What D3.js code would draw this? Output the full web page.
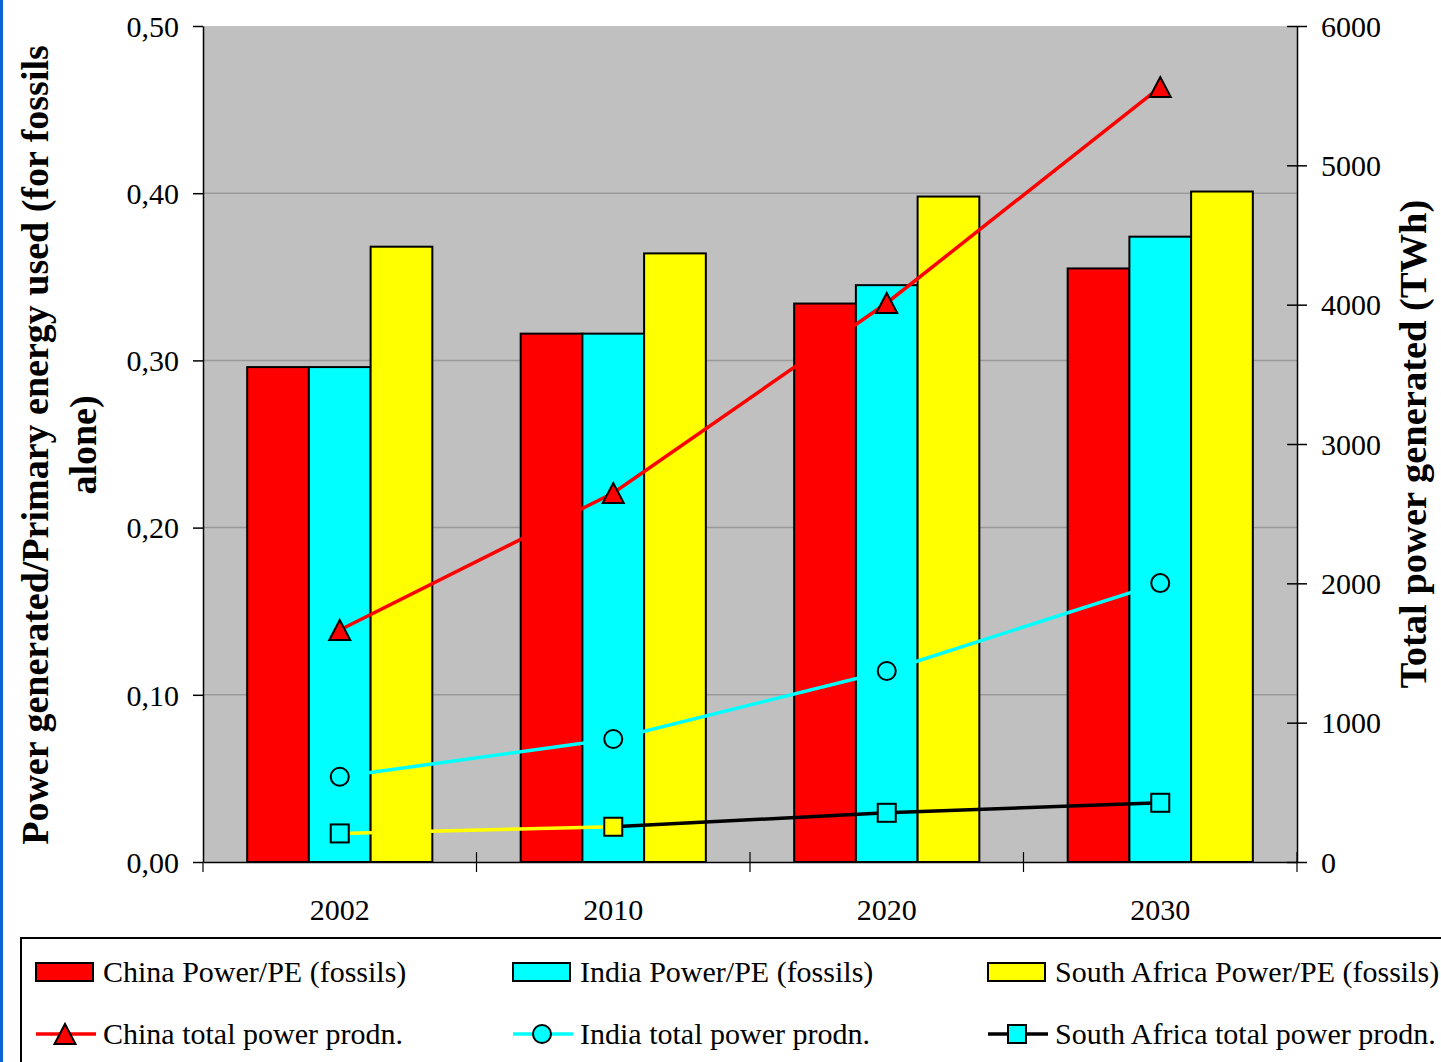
<!DOCTYPE html>
<html>
<head>
<meta charset="utf-8">
<script src="https://cdn.jsdelivr.net/npm/d3@7"></script>
<style>
  html, body { margin: 0; padding: 0; background: #ffffff; }
  svg { display: block; }
  text { font-family: "Liberation Serif", "Times New Roman", serif; fill: #000; }
</style>
</head>
<body>
<svg id="chart" width="1441" height="1062"></svg>
<script>
// ---------------- DATA ----------------
const years = ["2002", "2010", "2020", "2030"];
const barSeries = ["China Power/PE (fossils)", "India Power/PE (fossils)", "South Africa Power/PE (fossils)"];
const chinaRatio = [0.296, 0.316, 0.334, 0.355];
const indiaRatio = [0.296, 0.316, 0.345, 0.374];
const saRatio    = [0.368, 0.364, 0.398, 0.401];
const lineSeries = ["China total power prodn.", "India total power prodn.", "South Africa total power prodn."];
const chinaTotal = [1665, 2648, 4012, 5562];
const indiaTotal = [612, 883, 1371, 2002];
const saTotal    = [205, 253, 353, 425];
const leftTicks  = [0, 0.1, 0.2, 0.3, 0.4, 0.5];
const rightTicks = [0, 1000, 2000, 3000, 4000, 5000, 6000];
const leftTitleLines = ["Power generated/Primary energy used (for fossils", "alone)"];
const rightTitle = "Total power generated (TWh)";

// ---------------- STYLE ----------------
const barColors = ["#ff0000", "#00ffff", "#ffff00"];
const lineColors = ["#ff0000", "#00ffff", "#000000"];
// per-segment / per-point styling as in the original
const saSegmentColors = ["#ffff00", "#000000", "#000000"];
const saMarkerFills = ["#00ffff", "#ffff00", "#00ffff", "#00ffff"];

const svg = d3.select("#chart");
const L = 203, R = 1297, T = 26, B = 862;

// left blue strip
svg.append("rect").attr("x", 0).attr("y", 0).attr("width", 3).attr("height", 1062).attr("fill", "#0a64d2");

const x = d3.scaleBand().domain(years).range([L, R]).padding(0);
const groupW = x.bandwidth() * 0.677;
const x1 = d3.scaleBand().domain(d3.range(3)).range([-groupW / 2, groupW / 2]).padding(0);
const yL = d3.scaleLinear().domain([0, 0.5]).range([B, T]);
const yR = d3.scaleLinear().domain([0, 6000]).range([B, T]);
const cx = d => x(d) + x.bandwidth() / 2;

// plot background
svg.append("rect").attr("x", L).attr("y", T).attr("width", R - L).attr("height", B - T).attr("fill", "#c0c0c0");

// gridlines
svg.append("g").selectAll("line").data(leftTicks.filter(v => v > 0 && v < 0.5)).join("line")
  .attr("x1", L).attr("x2", R).attr("y1", d => yL(d)).attr("y2", d => yL(d))
  .attr("stroke", "#999999").attr("stroke-width", 1.5);

// bars
const barData = [chinaRatio, indiaRatio, saRatio];
const bars = svg.append("g");
barData.forEach((vals, si) => {
  bars.selectAll(null).data(years.map((y, i) => ({ y, v: vals[i] }))).join("rect")
    .attr("x", d => cx(d.y) + x1(si))
    .attr("y", d => yL(d.v))
    .attr("width", x1.bandwidth())
    .attr("height", d => yL(0) - yL(d.v))
    .attr("fill", barColors[si])
    .attr("stroke", "#000").attr("stroke-width", 2);
});

// axes
const fmtL = d => d3.format(".2f")(d).replace(".", ",");
const axL = svg.append("g").attr("transform", `translate(${L},0)`)
  .call(d3.axisLeft(yL).tickValues(leftTicks).tickFormat(fmtL).tickSizeInner(10).tickSizeOuter(0).tickPadding(14));
axL.select(".domain").attr("stroke", "#000").attr("stroke-width", 1.5);
axL.selectAll(".tick line").attr("stroke", "#000").attr("stroke-width", 1.5);
axL.selectAll("text").attr("font-size", 30).attr("font-family", "Liberation Serif").attr("dy", "0.34em");

const axR = svg.append("g").attr("transform", `translate(${R},0)`)
  .call(d3.axisRight(yR).tickValues(rightTicks).tickFormat(d3.format("d")).tickSizeInner(10).tickSizeOuter(0).tickPadding(14));
axR.select(".domain").attr("stroke", "#000").attr("stroke-width", 1.5);
axR.selectAll(".tick line").attr("x1", -10).attr("stroke", "#000").attr("stroke-width", 1.5);
axR.selectAll("text").attr("font-size", 30).attr("font-family", "Liberation Serif").attr("dy", "0.34em");

// bottom axis
const axB = svg.append("g").attr("transform", `translate(0,${B})`)
  .call(d3.axisBottom(x).tickSize(0).tickPadding(37));
axB.select(".domain").attr("stroke", "#000").attr("stroke-width", 1.5);
axB.selectAll("text").attr("font-size", 30).attr("font-family", "Liberation Serif");
const boundaries = years.map(y => x(y)).concat([R]);
svg.append("g").selectAll("line").data(boundaries).join("line")
  .attr("x1", d => d).attr("x2", d => d)
  .attr("y1", (d, i) => (i === 0 ? B : B - 10)).attr("y2", B + 10)
  .attr("stroke", "#000").attr("stroke-width", 1.2);

// lines
const lineGen = d3.line().x(d => cx(d.y)).y(d => yR(d.v));
const toPts = vals => years.map((y, i) => ({ y, v: vals[i] }));
const lines = svg.append("g");
lines.append("path").datum(toPts(chinaTotal)).attr("d", lineGen)
  .attr("fill", "none").attr("stroke", lineColors[0]).attr("stroke-width", 3.5);
lines.append("path").datum(toPts(indiaTotal)).attr("d", lineGen)
  .attr("fill", "none").attr("stroke", lineColors[1]).attr("stroke-width", 3.5);
const saPts = toPts(saTotal);
saSegmentColors.forEach((c, i) => {
  lines.append("path").datum([saPts[i], saPts[i + 1]]).attr("d", lineGen)
    .attr("fill", "none").attr("stroke", c).attr("stroke-width", 3.5);
});

// markers
const triPath = "M0,-10L10.5,10L-10.5,10Z";
svg.append("g").selectAll("path").data(toPts(chinaTotal)).join("path")
  .attr("d", triPath).attr("transform", d => `translate(${cx(d.y)},${yR(d.v)})`)
  .attr("fill", "#ff0000").attr("stroke", "#000").attr("stroke-width", 2);
svg.append("g").selectAll("circle").data(toPts(indiaTotal)).join("circle")
  .attr("cx", d => cx(d.y)).attr("cy", d => yR(d.v)).attr("r", 9)
  .attr("fill", "#00ffff").attr("stroke", "#000").attr("stroke-width", 2);
svg.append("g").selectAll("rect").data(saPts).join("rect")
  .attr("x", d => cx(d.y) - 9).attr("y", d => yR(d.v) - 9).attr("width", 18).attr("height", 18)
  .attr("fill", (d, i) => saMarkerFills[i]).attr("stroke", "#000").attr("stroke-width", 2);

// axis titles
const lt = svg.append("text").attr("transform", `translate(0,445) rotate(-90)`)
  .attr("text-anchor", "middle").attr("font-weight", "bold").attr("font-size", 38);
lt.append("tspan").attr("x", 0).attr("y", 48).text(leftTitleLines[0]);
lt.append("tspan").attr("x", 0).attr("y", 96).text(leftTitleLines[1]);
svg.append("text").attr("transform", `translate(1426,444) rotate(-90)`)
  .attr("text-anchor", "middle").attr("font-weight", "bold").attr("font-size", 38.5).text(rightTitle);

// legend
svg.append("rect").attr("x", 21).attr("y", 938).attr("width", 1460).attr("height", 160)
  .attr("fill", "#fff").attr("stroke", "#000").attr("stroke-width", 2);
const colX = [36, 513, 988];
const row1 = 972, row2 = 1034;
barSeries.forEach((name, i) => {
  svg.append("rect").attr("x", colX[i]).attr("y", row1 - 9).attr("width", 57).attr("height", 18)
    .attr("fill", barColors[i]).attr("stroke", "#000").attr("stroke-width", 2);
  svg.append("text").attr("x", colX[i] + 67).attr("y", row1 + 10).attr("font-size", 30).text(name);
});
lineSeries.forEach((name, i) => {
  const g = svg.append("g").attr("transform", `translate(${colX[i]},${row2})`);
  g.append("line").attr("x1", 0).attr("x2", 60).attr("y1", 0).attr("y2", 0)
    .attr("stroke", lineColors[i]).attr("stroke-width", 3.5);
  if (i === 0) g.append("path").attr("d", triPath).attr("transform", "translate(29,0)")
    .attr("fill", "#ff0000").attr("stroke", "#000").attr("stroke-width", 2);
  if (i === 1) g.append("circle").attr("cx", 29).attr("cy", 0).attr("r", 9)
    .attr("fill", "#00ffff").attr("stroke", "#000").attr("stroke-width", 2);
  if (i === 2) g.append("rect").attr("x", 20).attr("y", -9).attr("width", 18).attr("height", 18)
    .attr("fill", "#00ffff").attr("stroke", "#000").attr("stroke-width", 2);
  svg.append("text").attr("x", colX[i] + 67).attr("y", row2 + 10).attr("font-size", 30).text(name);
});
</script>
</body>
</html>
